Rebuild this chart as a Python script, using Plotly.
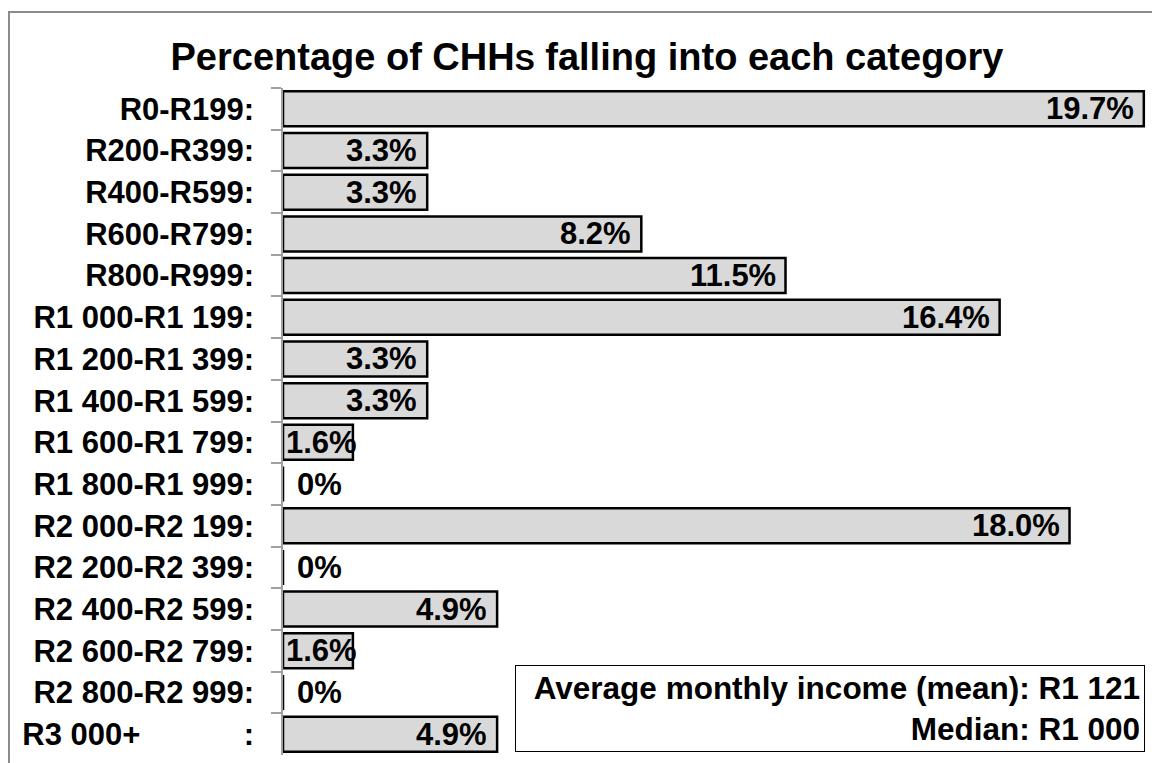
import plotly.graph_objects as go

categories = [
    "R0-R199:", "R200-R399:", "R400-R599:", "R600-R799:", "R800-R999:",
    "R1 000-R1 199:", "R1 200-R1 399:", "R1 400-R1 599:", "R1 600-R1 799:",
    "R1 800-R1 999:", "R2 000-R2 199:", "R2 200-R2 399:", "R2 400-R2 599:",
    "R2 600-R2 799:", "R2 800-R2 999:",
    "R3 000+" + "\u00a0" * 12 + ":",
]
percentages = [19.7, 3.3, 3.3, 8.2, 11.5, 16.4, 3.3, 3.3, 1.6, 0, 18.0, 0, 4.9, 1.6, 0, 4.9]

title_text = "Percentage of CHH<span style='font-size:30px'>S</span> falling into each category"
info_text = "Average monthly income (mean): R1 121<br>Median: R1 000"

FONT = "Liberation Sans, Arial, sans-serif"
LABEL_FONT = dict(family=FONT, size=31, color="#000000", weight="bold")

fig = go.Figure(go.Bar(
    x=percentages,
    y=categories,
    orientation="h",
    width=0.84,
    marker=dict(color="#d9d9d9", line=dict(color="#000000", width=2.5)),
    hoverinfo="skip",
))

value_annotations = []
for cat, v in zip(categories, percentages):
    if v == 0:
        label, anchor, shift = "0%", "left", 12
    elif v < 2:
        label, anchor, shift = f"{v:.1f}%", "right", 6
    else:
        label, anchor, shift = f"{v:.1f}%", "right", -8
    value_annotations.append(dict(
        x=v, y=cat, xref="x", yref="y", text=label, showarrow=False,
        xanchor=anchor, yanchor="middle", xshift=shift, font=LABEL_FONT,
    ))

fig.update_layout(
    width=1152, height=755,
    margin=dict(l=275, r=14, t=80, b=8, autoexpand=False),
    paper_bgcolor="white", plot_bgcolor="white",
    showlegend=False,
    font=dict(family=FONT, color="#000000"),
    title=dict(
        text=title_text, xref="container", yref="container",
        x=0.5026, y=0.935, xanchor="center", yanchor="middle",
        font=dict(family=FONT, size=38, color="#000000", weight="bold"),
    ),
    xaxis=dict(range=[0, 19.75], visible=False, fixedrange=True, automargin=False),
    yaxis=dict(
        autorange="reversed", automargin=False,
        showline=True, linecolor="#a0a0a0", linewidth=1.5,
        ticks="outside", tickson="boundaries", ticklen=10, tickcolor="#a0a0a0", tickwidth=1.5,
        ticklabelstandoff=21,
        tickfont=LABEL_FONT,
        showgrid=False, zeroline=False,
    ),
    shapes=[dict(
        type="rect", xref="paper", yref="paper",
        x0=(9 - 283) / 863, x1=(1175 - 283) / 863,
        y0=(755 - 775) / 667, y1=(755 - 12) / 667,
        line=dict(color="#8c8c8c", width=2), fillcolor="rgba(0,0,0,0)", layer="below",
    )],
    annotations=value_annotations + [dict(
        text=info_text, xref="paper", yref="paper",
        x=(1145 - 283) / 863, y=(755 - 752) / 667, xanchor="right", yanchor="bottom",
        align="right", showarrow=False, width=620,
        font=dict(family=FONT, size=31.5, color="#000000", weight="bold"),
        bgcolor="white", bordercolor="#000000", borderwidth=1, borderpad=4,
    )],
)

fig.write_html("out.html")
